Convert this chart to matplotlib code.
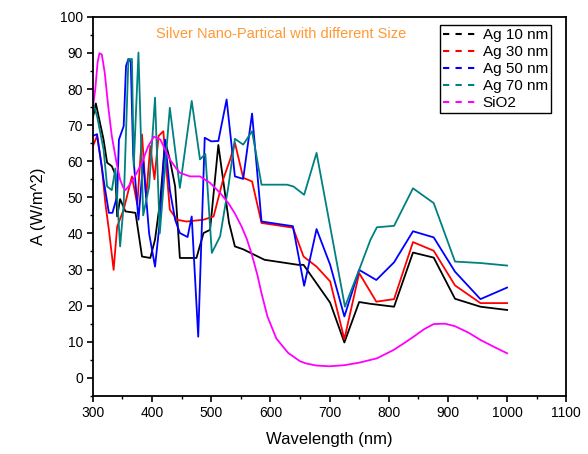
import matplotlib
matplotlib.use("Agg")
import matplotlib.pyplot as plt
from matplotlib.lines import Line2D
from matplotlib.ticker import MultipleLocator

plt.rcParams['font.family'] = ['Liberation Sans', 'DejaVu Sans']

# Ag 10 nm
wl_10 = [300, 305, 318, 324, 332, 338, 341, 346, 355, 372, 383, 397, 405, 414, 422,
         430, 439, 447, 475, 487, 498, 512, 530, 540, 554, 590, 647, 656, 701, 725,
         750, 769, 809, 841, 876, 912, 955, 1000]
a_10 = [72, 76, 66, 59.6, 58.6, 56.3, 44.7, 49.5, 46.1, 45.7, 33.6, 33.2, 38.3, 49.4, 65.6,
        60.5, 53, 33.2, 33.2, 40.1, 41, 64.5, 43, 36.4, 35.6, 32.7, 31.3, 31.3, 20.8, 9.8,
        21, 20.5, 19.7, 34.7, 33.3, 21.9, 19.7, 18.8]

# Ag 30 nm
wl_30 = [300, 307, 315, 321, 327, 335, 341, 352, 366, 375, 383, 390, 397, 404, 411,
         419, 430, 442, 458, 487, 504, 520, 532, 540, 554, 569, 585, 638, 656, 678,
         701, 725, 750, 779, 809, 841, 876, 912, 955, 1000]
a_30 = [64.2, 67, 58.6, 48.4, 41, 29.9, 41.9, 46.6, 55.8, 48, 67.4, 50, 64.2, 55, 67,
        68.3, 46.6, 43.8, 43.3, 43.8, 44.7, 54.9, 60.5, 65.1, 55.4, 54.4, 42.9, 41.6, 33.6, 30.8,
        26.7, 10.7, 29, 21.1, 21.8, 37.6, 35.2, 25.6, 20.7, 20.7]

# Ag 50 nm
wl_50 = [300, 307, 318, 327, 333, 341, 344, 352, 356, 360, 364, 368, 377, 385, 395, 405,
         414, 422, 430, 439, 447, 460, 467, 478, 489, 500, 512, 526, 540, 554, 569,
         585, 638, 657, 678, 701, 725, 750, 779, 809, 841, 876, 912, 955, 1000]
a_50 = [67, 67.5, 54.9, 45.7, 45.7, 50.3, 66, 69.7, 86.4, 88.3, 87.5, 62, 43.8, 60, 40, 30.8,
        44.7, 66, 52, 43.8, 40.1, 39, 44.7, 11.4, 66.5, 65.5, 65.6, 77.1, 55.8, 55.1, 73.2,
        43.3, 42, 25.5, 41.2, 31.3, 17, 29.9, 27.1, 32, 40.6, 38.9, 29.4, 21.8, 25]

# Ag 70 nm
wl_70 = [300, 307, 318, 324, 332, 338, 346, 352, 360, 366, 369, 377, 385, 395, 405,
         413, 430, 447, 467, 481, 490, 501, 515, 529, 540, 554, 569, 585, 628, 639,
         657, 678, 726, 752, 769, 780, 809, 841, 876, 912, 955, 1000]
a_70 = [76.2, 72.5, 63.3, 53, 52, 58, 36.4, 48, 88.3, 88.3, 58.6, 90.1, 45, 53, 77.6,
        40, 74.8, 52.6, 76.7, 60.5, 62, 34.6, 39.2, 53, 66.2, 64.6, 68.3, 53.5, 53.5, 53,
        50.7, 62.3, 19.7, 30.8, 38.2, 41.7, 42.1, 52.5, 48.4, 32.2, 31.8, 31.1]

# SiO2 (smooth curve)
wl_si = [300, 304, 308, 311, 315, 320, 326, 332, 340, 346, 351, 355, 360, 370, 383,
         393, 403, 414, 430, 440, 447, 464, 481, 498, 515, 529, 540, 551, 560, 568,
         578, 585, 595, 610, 630, 650, 660, 678, 700, 725, 750, 780, 808, 825, 842,
         860, 876, 895, 912, 935, 955, 980, 1000]
a_si = [75, 79.9, 87.5, 89.9, 89.6, 84.5, 75, 66.9, 59.5, 54.9, 52.8, 52, 53, 55.5, 59.6,
        64, 66.8, 66, 60.5, 58.2, 56.8, 55.8, 55.8, 54, 51.2, 48.4, 45.5, 42, 38.5, 34.5,
        28.5, 23.4, 17, 10.9, 6.9, 4.6, 4.0, 3.4, 3.2, 3.5, 4.2, 5.4, 7.7, 9.5, 11.4,
        13.5, 14.9, 15.0, 14.3, 12.5, 10.5, 8.4, 6.8]

labels = ['Ag 10 nm', 'Ag 30 nm', 'Ag 50 nm', 'Ag 70 nm', 'SiO2']
colors = ['#000000', '#FF0000', '#0000FF', '#008080', '#FF00FF']

fig = plt.figure(figsize=(5.88, 4.54), dpi=100)
ax = fig.add_axes([0.158, 0.128, 0.805, 0.835])

series = [(wl_10, a_10), (wl_30, a_30), (wl_50, a_50), (wl_70, a_70), (wl_si, a_si)]
for (x, y), c in zip(series, colors):
    ax.plot(x, y, color=c, lw=1.3)

ax.set_xlim(300, 1100)
ax.set_ylim(-5, 100)
ax.xaxis.set_major_locator(MultipleLocator(100))
ax.xaxis.set_minor_locator(MultipleLocator(50))
ax.yaxis.set_minor_locator(MultipleLocator(5))
ax.set_yticks(range(0, 101, 10))
ax.tick_params(which='major', direction='out', length=4, width=1.2, labelsize=10, pad=3)
ax.tick_params(which='minor', direction='out', length=2.5, width=1.0)
for s in ax.spines.values():
    s.set_linewidth(1.3)

ax.set_xlabel('Wavelength (nm)', fontsize=12, labelpad=9)
ax.set_ylabel('A (W/m^2)', fontsize=12, labelpad=10)

ax.text(0.397, 0.955, 'Silver Nano-Partical with different Size', transform=ax.transAxes,
        color='#FF9933', fontsize=10.5, ha='center', va='center')

handles = [Line2D([0], [0], color=c, lw=1.5, ls=(0, (3, 3))) for c in colors]
leg = ax.legend(handles, labels, loc='upper right', bbox_to_anchor=(0.968, 0.978),
                fontsize=11, fancybox=False, framealpha=1, edgecolor='black',
                handlelength=2.3, handletextpad=0.3, labelspacing=0.2,
                borderpad=0.2, borderaxespad=0)
leg.get_frame().set_linewidth(1.0)

fig.savefig('out.png', dpi=100)
